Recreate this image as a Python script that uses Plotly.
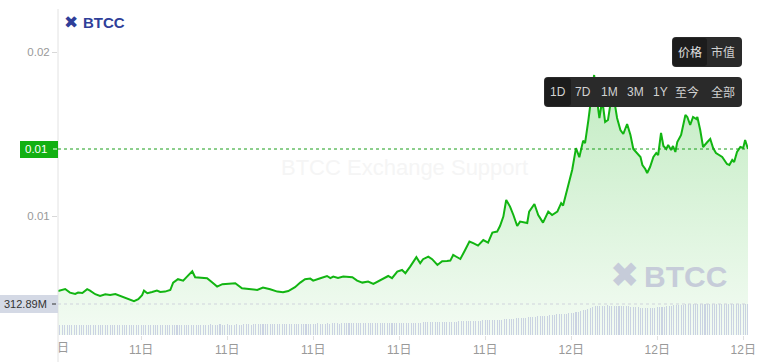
import plotly.graph_objects as go
import pandas as pd

# ---------------- data ----------------
start_time = pd.Timestamp("2024-03-11 06:00")

price_minutes = [6, 15, 21, 31, 42, 48, 57, 67, 73, 84, 94, 105, 115, 126, 136, 147, 157, 165, 174, 182,
                 186, 193, 203, 213, 220, 230, 241, 247, 257, 268, 276, 287, 293, 308, 318, 329, 339, 350,
                 362, 377, 391, 404, 419, 423, 435, 450, 465, 477, 488, 502, 513, 523, 534, 540, 555, 569,
                 576, 582, 592, 603, 622, 632, 643, 655, 666, 676, 687, 697, 705, 716, 726, 733, 743, 749,
                 756, 764, 770, 781, 789, 800, 810, 820, 827, 833, 848, 858, 867, 875, 885, 896, 906, 915,
                 925, 931, 938, 944, 952, 959, 967, 973, 984, 988, 992, 1003, 1011, 1021, 1032, 1040, 1051,
                 1059, 1063, 1074, 1082, 1090, 1097, 1105, 1109, 1116, 1122, 1128, 1134, 1139, 1145, 1151,
                 1157, 1164, 1170, 1176, 1183, 1189, 1197, 1204, 1210, 1218, 1225, 1229, 1235, 1239, 1245,
                 1252, 1258, 1262, 1268, 1273, 1279, 1283, 1289, 1293, 1298, 1302, 1310, 1319, 1323, 1329,
                 1335, 1342, 1344, 1350, 1356, 1365, 1371, 1377, 1383, 1396, 1406, 1411, 1417, 1421, 1427,
                 1434, 1440, 1444, 1450]

price_values = [0.00545, 0.00550, 0.00555, 0.00537, 0.00530, 0.00537, 0.00535, 0.00554, 0.00547, 0.00529,
                0.00520, 0.00529, 0.00525, 0.00530, 0.00520, 0.00512, 0.00500, 0.00494, 0.00504, 0.00524,
                0.00547, 0.00534, 0.00540, 0.00547, 0.00540, 0.00542, 0.00550, 0.00587, 0.00604, 0.00597,
                0.00617, 0.00644, 0.00614, 0.00610, 0.00609, 0.00587, 0.00567, 0.00579, 0.00580, 0.00584,
                0.00559, 0.00554, 0.00549, 0.00550, 0.00562, 0.00554, 0.00542, 0.00539, 0.00545, 0.00564,
                0.00587, 0.00604, 0.00607, 0.00597, 0.00609, 0.00620, 0.00609, 0.00617, 0.00610, 0.00617,
                0.00614, 0.00597, 0.00587, 0.00592, 0.00580, 0.00594, 0.00607, 0.00620, 0.00609, 0.00642,
                0.00650, 0.00634, 0.00667, 0.00692, 0.00714, 0.00684, 0.00704, 0.00717, 0.00704, 0.00675,
                0.00694, 0.00695, 0.00697, 0.00725, 0.00705, 0.00750, 0.00792, 0.00784, 0.00772, 0.00800,
                0.00787, 0.00837, 0.00842, 0.00870, 0.00917, 0.01000, 0.00967, 0.00925, 0.00870, 0.00892,
                0.00884, 0.00885, 0.00942, 0.00980, 0.00925, 0.00887, 0.00942, 0.00925, 0.00942, 0.00984,
                0.00972, 0.01075, 0.01150, 0.01259, 0.01214, 0.01297, 0.01284, 0.01400, 0.01515, 0.01625,
                0.01500, 0.01410, 0.01500, 0.01390, 0.01400, 0.01510, 0.01500, 0.01410, 0.01350, 0.01330,
                0.01380, 0.01325, 0.01255, 0.01235, 0.01215, 0.01175, 0.01155, 0.01135, 0.01165, 0.01215,
                0.01235, 0.01225, 0.01335, 0.01270, 0.01255, 0.01275, 0.01250, 0.01270, 0.01240, 0.01290,
                0.01325, 0.01425, 0.01415, 0.01375, 0.01415, 0.01405, 0.01415, 0.01350, 0.01265, 0.01290,
                0.01305, 0.01260, 0.01235, 0.01215, 0.01180, 0.01175, 0.01200, 0.01190, 0.01240, 0.01265,
                0.01260, 0.01300, 0.01255]

# 5-minute volume bars (millions), first bar at 06:10
volume_m = [
    100, 101, 102, 101, 100, 101, 102, 101, 101, 100,
    101, 102, 101, 100, 101, 101, 102, 101, 100, 101,
    102, 101, 101, 100, 101, 102, 101, 100, 101, 101,
    102, 101, 100, 101, 102, 101, 101, 100, 101, 102,
    101, 100, 101, 101, 102, 101, 100, 101, 102, 101,
    101, 102, 103, 102, 103, 104, 103, 104, 105,
    105, 106, 105, 106, 107, 106, 105, 106, 107, 106,
    106, 107, 106, 105, 106, 107, 106, 106, 107, 108,
    107, 106, 107, 108, 107, 108, 109, 108, 109, 110,
    109, 110, 111, 110, 111, 112, 111, 112, 113, 112,
    113, 114,
    114, 115, 114, 115, 116, 115, 116, 117, 116, 115,
    116, 117, 116, 117, 118, 117, 116, 117, 118, 117,
    118, 119, 118, 119, 120, 119, 118, 119, 120, 119,
    120, 121, 120,
    121, 120, 121, 122, 121, 122, 121, 122, 123, 122,
    123, 124, 123, 124, 125, 126, 125, 126, 127, 128, 129,
    129, 130, 131, 130, 131, 132, 133, 132, 134, 135,
    136, 135, 137, 138, 137, 139, 140, 141, 142, 143, 145,
    146, 147, 148, 149, 150, 151, 152, 153, 155, 156, 158, 160, 162,
    164, 166, 168, 170, 172, 174, 176, 179,
    181, 183, 185, 187, 189, 191, 193, 196,
    199, 202, 204, 207, 210, 212, 215,
    217, 219, 221, 224, 228, 233,
    240, 248, 256, 265,
    274, 282, 289, 294,
    296, 297, 296, 298, 297, 296, 297, 296, 295, 294, 292, 290, 288, 285, 283, 280, 278,
    275, 273, 272, 271, 272, 274,
    277, 280, 283, 285, 287, 290, 293,
    296, 299, 301, 303, 305, 307, 309, 310,
    312, 313, 314, 315, 316, 316, 317, 317, 316, 316, 315, 315, 314, 314, 313, 313, 313, 312,
    313, 313, 312, 313, 313, 313, 312.89,
]

y_tick_values = [0.0174, 0.0092]
y_tick_labels = ["0.02", "0.01"]
x_tick_hours = [3, 6, 9, 12, 15, 18, 21, 24]
x_tick_labels = ["11日", "11日", "11日", "11日", "11日", "12日", "12日", "12日"]

# ---------------- layout geometry ----------------
W, H = 759, 364
L, R, T, B = 58, 11, 10, 29
PW, PH = W - L - R, H - T - B


def fx(x):
    return (x - L) / PW


def fy(y):
    return (H - B - y) / PH


def rrect(x0, y0, x1, y1, r):
    pts = [
        ("M", [(x0 + r, y0)]), ("L", [(x1 - r, y0)]), ("Q", [(x1, y0), (x1, y0 + r)]),
        ("L", [(x1, y1 - r)]), ("Q", [(x1, y1), (x1 - r, y1)]), ("L", [(x0 + r, y1)]),
        ("Q", [(x0, y1), (x0, y1 - r)]), ("L", [(x0, y0 + r)]), ("Q", [(x0, y0), (x0 + r, y0)]),
    ]
    s = ""
    for cmd, ps in pts:
        s += cmd + " " + " ".join(f"{fx(a):.5f},{fy(b):.5f}" for a, b in ps) + " "
    return s + "Z"


FONT = "Liberation Sans, Arial, Noto Sans CJK SC, sans-serif"

times = [start_time + pd.Timedelta(minutes=m) for m in price_minutes]
vol_times = [start_time + pd.Timedelta(minutes=10 + 5 * i) for i in range(len(volume_m))]
last_price = price_values[-1]
last_vol = volume_m[-1]

y_lo, y_hi = 0.00325, 0.0195
vol_hi = last_vol * PH / 31.0

fig = go.Figure()
fig.add_trace(go.Scatter(
    x=times, y=price_values, mode="lines",
    line=dict(color="#12b512", width=2),
    fill="tozeroy",
    fillgradient=dict(type="vertical", start=y_lo, stop=max(price_values),
                      colorscale=[[0, "rgba(20,180,20,0.05)"], [1, "rgba(20,180,20,0.26)"]]),
    hoverinfo="skip", showlegend=False,
))
fig.add_trace(go.Bar(
    x=vol_times, y=volume_m, yaxis="y2",
    marker=dict(color="rgba(190,198,222,0.75)", line=dict(width=0)),
    width=130000, hoverinfo="skip", showlegend=False,
))

shapes = []
shapes.append(dict(type="line", xref="paper", yref="paper", x0=0, x1=0, y0=fy(9), y1=fy(362),
                   line=dict(color="#e2e2e2", width=1)))
shapes.append(dict(type="line", xref="paper", yref="y", x0=0, x1=1, y0=last_price, y1=last_price,
                   line=dict(color="#1a9e1a", width=1, dash="3px,3px")))
shapes.append(dict(type="line", xref="paper", yref="y2", x0=0, x1=1, y0=last_vol, y1=last_vol,
                   line=dict(color="#cfd3dc", width=1, dash="3px,3px")))
shapes.append(dict(type="rect", xref="paper", yref="paper", x0=fx(20), x1=fx(58), y0=fy(158), y1=fy(141),
                   fillcolor="#12b012", line=dict(width=0)))
shapes.append(dict(type="line", xref="paper", yref="paper", x0=fx(53), x1=fx(57), y0=fy(149), y1=fy(149),
                   line=dict(color="white", width=1)))
shapes.append(dict(type="rect", xref="paper", yref="paper", x0=fx(0), x1=fx(58), y0=fy(313), y1=fy(295),
                   fillcolor="#d4d9e5", line=dict(width=0)))
shapes.append(dict(type="line", xref="paper", yref="paper", x0=fx(52), x1=fx(56), y0=fy(304), y1=fy(304),
                   line=dict(color="#333", width=1)))
shapes.append(dict(type="path", xref="paper", yref="paper", path=rrect(672, 37, 742, 67, 4),
                   fillcolor="#2a2a2a", line=dict(width=0)))
shapes.append(dict(type="path", xref="paper", yref="paper", path=rrect(673, 38, 707, 66, 3),
                   fillcolor="#1c1c1c", line=dict(width=0)))
shapes.append(dict(type="path", xref="paper", yref="paper", path=rrect(544, 77, 742, 107, 4),
                   fillcolor="#2a2a2a", line=dict(width=0)))
shapes.append(dict(type="path", xref="paper", yref="paper", path=rrect(545, 78, 571, 106, 3),
                   fillcolor="#1c1c1c", line=dict(width=0)))

ann = []


def text(x, y, t, size=12, color="#999", xanchor="center", bold=False, font=FONT):
    ann.append(dict(x=fx(x), y=fy(y), xref="paper", yref="paper", text=f"<b>{t}</b>" if bold else t,
                    showarrow=False, xanchor=xanchor, yanchor="middle",
                    font=dict(size=size, color=color, family=font)))


text(49, 149, "0.01", 11.5, "white", xanchor="right")
text(49, 304, "312.89M", 11, "#333", xanchor="right")
text(63, 348, "日", 12, "#999")
text(71, 22, "✖", 17, "#2f3f99", font="DejaVu Sans")
text(81, 22.5, "BTCC", 15, "#2f3f99", xanchor="left", bold=True)
text(404, 167, "BTCC Exchange Support", 22, "#f5f5f5")
text(624, 275, "✖", 35, "#c6ccd9", font="DejaVu Sans")
text(642, 276, "BTCC", 30, "#c6ccd9", xanchor="left", bold=True)
text(690, 52, "价格", 12, "#e0e0e0")
text(723, 52, "市值", 12, "#d0d0d0")
for cx, lab in zip([558, 583, 609, 635, 660, 687, 723], ["1D", "7D", "1M", "3M", "1Y", "至今", "全部"]):
    text(cx, 92, lab, 12, "#d2d2d2")

fig.update_layout(
    width=W, height=H,
    margin=dict(l=L, r=R, t=T, b=B, pad=0),
    paper_bgcolor="white", plot_bgcolor="white",
    bargap=0,
    xaxis=dict(range=[times[0], times[-1]], showgrid=False, zeroline=False, showline=False,
               tickvals=[start_time + pd.Timedelta(hours=h) for h in x_tick_hours],
               ticktext=x_tick_labels, ticks="outside", ticklen=4, tickcolor="#e0e0e0",
               tickfont=dict(size=12, color="#999", family=FONT), automargin=False),
    yaxis=dict(range=[y_lo, y_hi], showgrid=False, zeroline=False, showline=False,
               tickvals=y_tick_values, ticktext=y_tick_labels, ticks="outside", ticklen=5,
               tickcolor="#d8d8d8", tickfont=dict(size=11.5, color="#999", family=FONT), automargin=False),
    yaxis2=dict(range=[0, vol_hi], overlaying="y", visible=False),
    shapes=shapes, annotations=ann,
)

fig.write_html("out.html", config={"displayModeBar": False})
with open("out.html", "r", encoding="utf-8") as f:
    html = f.read()
html = html.replace("<head>", "<head><style>html,body{margin:0;padding:0;overflow:hidden;}</style>", 1)
with open("out.html", "w", encoding="utf-8") as f:
    f.write(html)
